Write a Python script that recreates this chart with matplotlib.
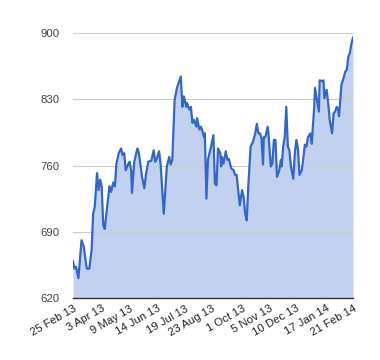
import numpy as np
import pandas as pd
import matplotlib
matplotlib.use("Agg")
import matplotlib.pyplot as plt

# series: days after 25 Feb 2013 and closing value
start = pd.Timestamp("2013-02-25")
days = [0, 2, 4, 7, 11, 14, 17, 18, 21, 24, 26, 28, 31, 33, 35, 37, 39, 41, 43, 47,
        49, 52, 54, 56, 59, 62, 64, 66, 68, 71, 73, 75, 76, 79, 83, 85, 89, 92, 94, 97,
        101, 104, 106, 108, 111, 113, 117, 121, 124, 126, 128, 131, 134, 137, 139, 141,
        143, 146, 147, 150, 152, 154, 156, 159, 160, 163, 165, 167, 169, 170, 172, 174,
        178, 181, 183, 185, 187, 190, 191, 192, 194, 197, 199, 201, 204, 207, 209, 211,
        213, 215, 218, 220, 222, 224, 226, 229, 232, 235, 237, 239, 241, 243, 245, 246,
        248, 251, 252, 255, 257, 259, 261, 263, 266, 268, 269, 271, 273, 275, 277, 279,
        281, 284, 286, 288, 290, 292, 295, 299, 301, 303, 306, 308, 309, 311, 312, 315,
        317, 318, 321, 323, 324, 327, 329, 331, 334, 336, 338, 340, 342, 343, 346, 348,
        351, 353, 355, 357, 359, 361]
values = [659, 651, 653, 641, 681, 674, 655, 651, 651, 671, 709, 716, 752, 734, 745, 738,
          697, 693, 709, 738, 732, 742, 738, 762, 773, 778, 771, 773, 755, 761, 764, 755,
          731, 764, 778, 773, 748, 736, 750, 764, 765, 776, 764, 767, 775, 761, 709, 759,
          769, 761, 766, 829, 842, 849, 854, 822, 833, 822, 826, 819, 822, 805, 808, 801,
          810, 798, 801, 796, 790, 794, 725, 766, 780, 792, 741, 739, 778, 773, 759, 769,
          762, 775, 766, 767, 757, 755, 750, 750, 734, 718, 734, 727, 709, 702, 738, 780,
          785, 794, 804, 794, 794, 789, 761, 790, 790, 801, 794, 759, 762, 787, 787, 748,
          755, 766, 759, 780, 790, 822, 780, 776, 759, 746, 773, 787, 778, 750, 755, 782,
          780, 790, 794, 783, 798, 822, 842, 827, 817, 850, 849, 850, 831, 840, 826, 808,
          794, 815, 817, 822, 819, 812, 845, 850, 859, 861, 875, 879, 889, 895]

tick_dates = ["2013-02-25", "2013-04-03", "2013-05-09", "2013-06-14", "2013-07-19",
              "2013-08-23", "2013-10-01", "2013-11-05", "2013-12-10", "2014-01-17",
              "2014-02-21"]
tick_labels = ["25 Feb 13", "3 Apr 13", "9 May 13", "14 Jun 13", "19 Jul 13",
               "23 Aug 13", "1 Oct 13", "5 Nov 13", "10 Dec 13", "17 Jan 14",
               "21 Feb 14"]
y_ticks = [620, 690, 760, 830, 900]

plt.rcParams['font.family'] = ['Liberation Sans', 'DejaVu Sans']

dates = start + pd.to_timedelta(days, unit="D")

fig = plt.figure(figsize=(3.8, 3.6), dpi=100)
ax = fig.add_axes([73/380, 1-298/360, 280/380, 265/360])

line_color = "#3366CC"
ax.fill_between(dates, values, 620, color="#C3D1F0", linewidth=0, zorder=1)
ax.plot(dates, values, color=line_color, linewidth=1.6, zorder=3)

ax.set_xlim(pd.Timestamp(tick_dates[0]), pd.Timestamp(tick_dates[-1]))
ax.set_ylim(620, 900)
ax.set_yticks(y_ticks)
ax.set_yticklabels([str(v) for v in y_ticks], fontsize=8.2, color="#444444")
ax.set_xticks(pd.to_datetime(tick_dates))
ax.set_xticklabels(tick_labels, fontsize=8.2, color="#222222", rotation=30,
                   ha="right", rotation_mode="anchor")
ax.tick_params(axis="both", length=0)
ax.tick_params(axis="y", pad=9.5)
ax.tick_params(axis="x", pad=4)

ax.grid(axis="y", color="#CCCCCC", linewidth=0.8, zorder=2)
ax.set_axisbelow(False)
for side in ["top", "right", "left"]:
    ax.spines[side].set_visible(False)
ax.spines["bottom"].set_color("#333333")
ax.spines["bottom"].set_linewidth(1.0)
ax.spines["bottom"].set_zorder(4)

fig.savefig("out.png", dpi=100)
